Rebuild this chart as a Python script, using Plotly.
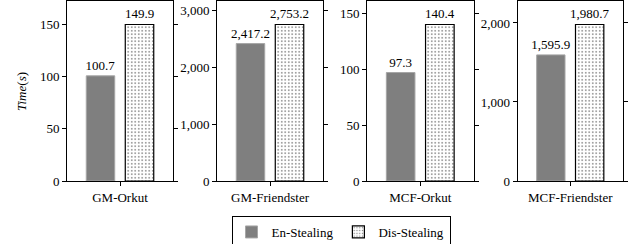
import plotly.graph_objects as go

panels = ["GM-Orkut", "GM-Friendster", "MCF-Orkut", "MCF-Friendster"]
en_stealing = [100.7, 2417.2, 97.3, 1595.9]
dis_stealing = [149.9, 2753.2, 140.4, 1980.7]
y_ticks = [[0, 50, 100, 150], [0, 1000, 2000, 3000], [0, 50, 100, 150], [0, 1000, 2000]]

FONT = "Liberation Serif, Times New Roman, serif"
W, H = 641, 244
L, R, T, B = 67, 18, 1, 63
pw = W - L - R
px_domains = [(67, 173), (217, 323), (367, 473.5), (517.5, 623)]
domains = [((a - L) / pw, (b - L) / pw) for a, b in px_domains]

fig = go.Figure()
for i, name in enumerate(panels):
    ax = "" if i == 0 else str(i + 1)
    fig.add_trace(go.Bar(
        x=[name], y=[en_stealing[i]], name="En-Stealing", legendgroup="en",
        showlegend=(i == 0), xaxis="x" + ax, yaxis="y" + ax,
        marker=dict(color="#7f7f7f", line=dict(color="#a6a6a6", width=1)),
        texttemplate="%{y:,.1f}", textposition="outside", cliponaxis=False,
        constraintext="none",
        textfont=dict(family=FONT, size=13, color="black"),
    ))
    fig.add_trace(go.Bar(
        x=[name], y=[dis_stealing[i]], name="Dis-Stealing", legendgroup="dis",
        showlegend=(i == 0), xaxis="x" + ax, yaxis="y" + ax,
        marker=dict(color="white", line=dict(color="black", width=1.2),
                    pattern=dict(shape=".", fgcolor="black", bgcolor="white", size=3.5, solidity=0.18)),
        texttemplate="%{y:,.1f}", textposition="outside", cliponaxis=False,
        constraintext="none",
        textfont=dict(family=FONT, size=13, color="black"),
    ))
    ymax = max(en_stealing[i], dis_stealing[i]) * 1.15
    fig.update_layout(**{
        "xaxis" + ax: dict(domain=list(domains[i]), anchor="y" + ax, type="category",
                           range=[-0.5, 0.5], showline=True, linecolor="black", linewidth=1,
                           mirror="ticks", ticks="outside", ticklen=4, tickcolor="black",
                           tickfont=dict(family=FONT, size=13, color="black"), showgrid=False),
        "yaxis" + ax: dict(anchor="x" + ax, range=[0, ymax], tickvals=y_ticks[i],
                           tickformat=",", showline=True, linecolor="black", linewidth=1,
                           mirror="ticks", ticks="outside", ticklen=4, tickcolor="black",
                           tickfont=dict(family=FONT, size=13, color="black"),
                           showgrid=False, zeroline=False),
    })

fig.add_annotation(text="<i>Time</i>(<i>s</i>)", xref="paper", yref="paper",
                   x=(21 - L) / pw, y=(181 - 92) / 180, textangle=-90, showarrow=False,
                   font=dict(family=FONT, size=13, color="black"), xanchor="center", yanchor="middle")

fig.update_layout(
    width=W, height=H, margin=dict(l=L, r=R, t=T, b=B, autoexpand=False),
    plot_bgcolor="white", paper_bgcolor="white",
    barmode="group", bargap=0.264, bargroupgap=0.27,
    font=dict(family=FONT, size=13, color="black"),
    legend=dict(orientation="h", x=(341 - L) / pw, xanchor="center", y=(181 - 216) / 180,
                yanchor="top", bordercolor="black", borderwidth=1,
                font=dict(family=FONT, size=13, color="black"),
                tracegroupgap=0),
)

fig.write_html("out.html", config={"displayModeBar": False},
               post_script="document.body.style.margin='0';document.body.style.overflow='hidden';")
